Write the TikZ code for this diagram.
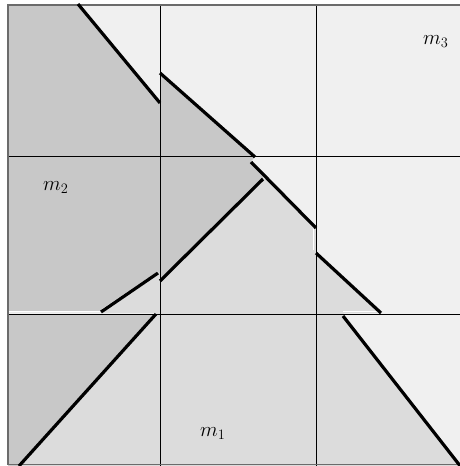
\documentclass[tikz,border=0pt]{standalone}
\definecolor{lightc}{gray}{0.941}
\definecolor{midc}{gray}{0.863}
\definecolor{darkc}{gray}{0.784}
\definecolor{bordc}{gray}{0.42}
\begin{document}
\begin{tikzpicture}[x=1pt,y=-1pt,
  thickline/.style={line width=3.2pt},
  gridline/.style={line width=1pt},
  edgeline/.style={white,line width=1.3pt},
  borderline/.style={bordc,line width=1.6pt},
  lab/.style={font=\fontsize{20}{24}\selectfont, inner sep=0pt, anchor=base west}]
\useasboundingbox (0,0) rectangle (460,466);
% regions
\fill[lightc] (8,5) rectangle (462,466);
\fill[darkc] (8,5) -- (78,5) -- (160,103) -- (160,73) -- (255,157) -- (251,161)
  -- (264,175) -- (263,179) -- (160,281) -- (160,273) -- (101,312) -- (8,312) -- cycle;
\fill[darkc] (8,314) -- (156,314) -- (19,466) -- (8,466) -- cycle;
\fill[midc] (264,175) -- (316,228) -- (316,253) -- (381,313) -- (343,313)
  -- (460,466) -- (19,466) -- (156,313) -- (101,313) -- (160,273) -- (160,281)
  -- (263,179) -- cycle;
% white region edges
\draw[edgeline] (8,311.6) -- (101,311.6);
\draw[edgeline] (102,309.8) -- (158,272);
\draw[edgeline] (313.6,229) -- (313.6,250);
\draw[edgeline] (343,311.6) -- (378,311.6);
% grid
\draw[gridline] (160,5) -- (160,466);
\draw[gridline] (316,5) -- (316,466);
\draw[gridline] (8,156) -- (462,156);
\draw[gridline] (8,314) -- (462,314);
% border
\draw[borderline] (8,464.5) -- (8,5) -- (462,5);
\draw[borderline] (8,464.5) -- (462,464.5);
% thick lines
\draw[thickline] (78,4) -- (160,103);
\draw[thickline] (160,73) -- (255,157);
\draw[thickline] (251,162) -- (316,228);
\draw[thickline] (316,253) -- (381,313);
\draw[thickline] (343,316) -- (461,467);
\draw[thickline] (263,179) -- (160,281);
\draw[thickline] (158,273) -- (101,312);
\draw[thickline] (156,314) -- (19,466);
% labels
\node[lab] (m2) at (43,190) {$m_2$};
\node[lab] (m3) at (423,44) {$m_3$};
\node[lab] (m1) at (200,436) {$m_1$};
\end{tikzpicture}
\end{document}
